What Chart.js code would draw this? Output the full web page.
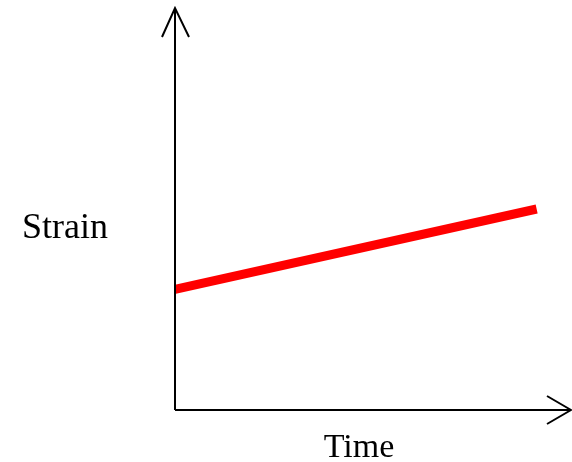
<!DOCTYPE html>
<html>
<head>
<meta charset="utf-8">
<script src="https://cdn.jsdelivr.net/npm/chart.js@4"></script>
<style>
	html, body { margin: 0; padding: 0; background: #fff; }
	#wrap { width: 572px; height: 462px; }
</style>
</head>
<body>
<div id="wrap"><canvas id="strainChart"></canvas></div>
<script>
// Strain vs time (schematic)
const times = [0, 1];
const strain = [0.3, 0.5];
const xLabel = 'Time';
const yLabel = 'Strain';

// axes with arrow heads plus the two axis labels
const axesPlugin = {
	id: 'axes',
	afterDraw(chart) {
		const ctx = chart.ctx;
		const a = chart.chartArea;
		ctx.save();
		ctx.strokeStyle = '#000';
		ctx.lineWidth = 2;
		ctx.beginPath();
		// y axis
		ctx.moveTo(a.left, a.bottom);
		ctx.lineTo(a.left, a.top);
		ctx.moveTo(a.left - 13, a.top + 29);
		ctx.lineTo(a.left, a.top);
		ctx.lineTo(a.left + 14, a.top + 29);
		// x axis
		ctx.moveTo(a.left, a.bottom);
		ctx.lineTo(a.right, a.bottom);
		ctx.moveTo(a.right - 24, a.bottom - 14);
		ctx.lineTo(a.right, a.bottom);
		ctx.lineTo(a.right - 24, a.bottom + 14);
		ctx.stroke();

		ctx.fillStyle = '#000';
		ctx.textBaseline = 'alphabetic';
		ctx.font = '36px "Liberation Serif", "Times New Roman", serif';
		ctx.textAlign = 'left';
		ctx.fillText(yLabel, 22, 238);
		ctx.font = '34px "Liberation Serif", "Times New Roman", serif';
		ctx.textAlign = 'center';
		ctx.fillText(xLabel, 359, 457);
		ctx.restore();
	}
};

new Chart(document.getElementById('strainChart'), {
	type: 'line',
	data: {
		datasets: [{
			data: times.map((t, i) => ({ x: t, y: strain[i] })),
			borderColor: '#ff0000',
			borderWidth: 9,
			borderCapStyle: 'butt',
			pointRadius: 0,
			tension: 0
		}]
	},
	options: {
		responsive: true,
		maintainAspectRatio: false,
		animation: false,
		layout: { padding: { left: 175, top: 8, right: 1, bottom: 52 } },
		plugins: { legend: { display: false }, tooltip: { enabled: false } },
		scales: {
			x: { type: 'linear', min: 0, max: 1.095, display: false },
			y: { type: 'linear', min: 0, max: 1, display: false }
		}
	},
	plugins: [axesPlugin]
});
</script>
</body>
</html>
